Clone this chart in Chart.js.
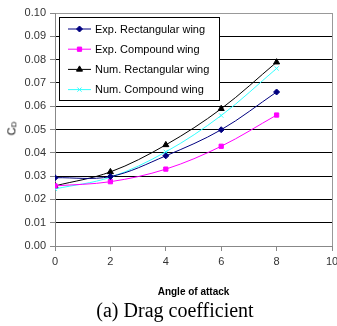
<!DOCTYPE html>
<html>
<head>
<meta charset="utf-8">
<script src="https://cdn.jsdelivr.net/npm/chart.js@4.4.1/dist/chart.umd.min.js"></script>
<style>
  body { margin: 0; background: #fff; width: 337px; height: 326px; overflow: hidden; position: relative; }
  #wrap { position: absolute; left: 0; top: 0; width: 337px; height: 300px; }
  #ytitle { position: absolute; left: 5px; top: 122px; font: 11px "Liberation Sans", Arial, sans-serif; color: #000;
            transform: rotate(-90deg); transform-origin: center; white-space: nowrap; }
  #ytitle sub { font-size: 8px; vertical-align: -1px; }
  #caption { position: absolute; left: 0; top: 299px; width: 350px; text-align: center;
             font: 20px "Liberation Serif", "Times New Roman", serif; color: #000; }
</style>
</head>
<body>
<div id="wrap"><canvas id="chart" width="337" height="300"></canvas></div>
<div id="ytitle">C<sub>D</sub></div>
<div id="caption">(a) Drag coefficient</div>
<script>
// --- data ---
const angles = [0, 2, 4, 6, 8];
const expRect = [0.0293, 0.0298, 0.0387, 0.0499, 0.0661];
const expComp = [0.0258, 0.0276, 0.0330, 0.0428, 0.0562];
const numRect = [0.0258, 0.0318, 0.0434, 0.0589, 0.0789];
const numComp = [0.0245, 0.0295, 0.0404, 0.0560, 0.0762];
const seriesNames = ['Exp. Rectangular wing', 'Exp. Compound wing', 'Num. Rectangular wing', 'Num. Compound wing'];

const toXY = arr => arr.map((v, i) => ({ x: angles[i], y: v }));

function series(label, data, color, style, radius) {
    return {
        label: label,
        data: toXY(data),
        borderColor: color,
        backgroundColor: color,
        borderWidth: 1,
        pointStyle: style,
        pointRadius: radius,
        pointBorderWidth: 1,
        tension: 0.35,
        fill: false
    };
}

// legend drawn inside the plot area, like the original
const boxLegend = {
    id: 'boxLegend',
    afterDatasetsDraw(chart) {
        const ctx = chart.ctx;
        const a = chart.chartArea;
        const bx = a.left + 4, by = a.top + 4, bw = 160, bh = 83;
        ctx.save();
        ctx.fillStyle = '#fff';
        ctx.fillRect(bx, by, bw, bh);
        ctx.strokeStyle = '#000';
        ctx.lineWidth = 1;
        ctx.strokeRect(Math.round(bx) + 0.5, Math.round(by) + 0.5, bw, bh);
        ctx.font = '11px "Liberation Sans", Arial, sans-serif';
        ctx.textBaseline = 'middle';
        chart.data.datasets.forEach((ds, i) => {
            const y = by + 12 + i * 20.2;
            ctx.strokeStyle = ds.borderColor;
            ctx.beginPath();
            ctx.moveTo(bx + 9, y);
            ctx.lineTo(bx + 32, y);
            ctx.stroke();
            ctx.fillStyle = ds.backgroundColor;
            Chart.helpers.drawPoint(ctx, { pointStyle: ds.pointStyle, radius: ds.pointRadius, borderWidth: 1, rotation: 0 }, bx + 20.5, y);
            ctx.fillStyle = '#000';
            ctx.fillText(ds.label, bx + 36, y + 0.5);
        });
        ctx.restore();
    }
};

new Chart(document.getElementById('chart'), {
    type: 'line',
    data: {
        datasets: [
            series(seriesNames[0], expRect, '#000080', 'rectRot', 3),
            series(seriesNames[1], expComp, '#ff00ff', 'rect', 3),
            series(seriesNames[2], numRect, '#000000', 'triangle', 3.5),
            series(seriesNames[3], numComp, '#33ffff', 'crossRot', 3)
        ]
    },
    options: {
        responsive: false,
        animation: false,
        layout: { padding: { top: 13, right: 1, left: 0, bottom: 0 } },
        plugins: { legend: { display: false }, tooltip: { enabled: false } },
        scales: {
            x: {
                type: 'linear',
                min: 0, max: 10,
                ticks: { stepSize: 2, color: '#333', padding: 4, maxRotation: 0,
                         font: { family: '"Liberation Sans", Arial, sans-serif', size: 11 } },
                grid: {
                    color: c => c.tick && c.tick.value === 10 ? '#999' : 'rgba(0,0,0,0)',
                    tickColor: '#888', tickLength: 5
                },
                border: { color: '#888' },
                title: { display: true, text: 'Angle of attack', color: '#000',
                         padding: { top: 0, bottom: 2 },
                         font: { family: '"Liberation Sans", Arial, sans-serif', size: 10, weight: 'bold' } },
                afterFit(s) { s.height = 54; s.paddingRight = 0; s.paddingLeft = 0; }
            },
            y: {
                min: 0, max: 0.1,
                ticks: { stepSize: 0.01, color: '#333', padding: 4,
                         callback: v => v.toFixed(2),
                         font: { family: '"Liberation Sans", Arial, sans-serif', size: 11 } },
                grid: {
                    color: c => (c.tick && (c.tick.value > 0.0999 || c.tick.value < 0.0001)) ? '#999' : '#000',
                    tickColor: '#888', tickLength: 5
                },
                border: { color: '#888' },
                afterFit(s) { s.width = 55; }
            }
        }
    },
    plugins: [boxLegend]
});
</script>
</body>
</html>
